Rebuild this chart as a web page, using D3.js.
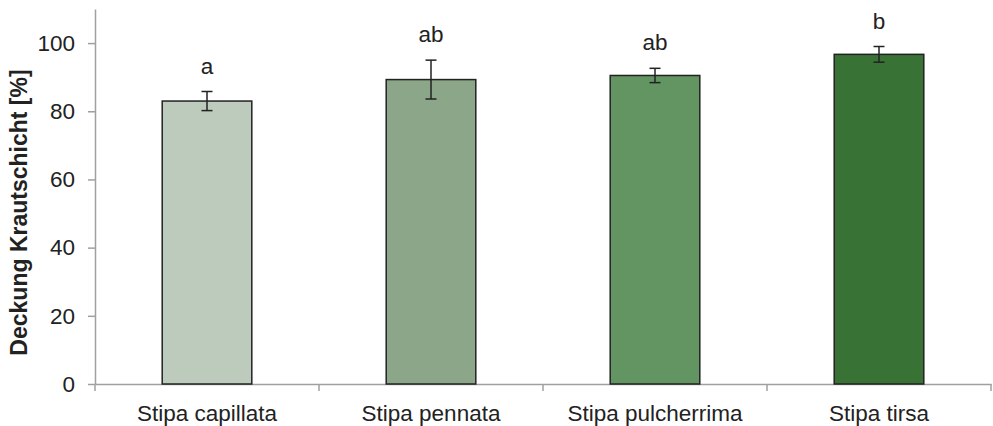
<!DOCTYPE html>
<html><head><meta charset="utf-8">
<script src="https://cdn.jsdelivr.net/npm/d3@7"></script>
<style>body{margin:0;background:#fff}svg{display:block}</style>
</head><body>
<svg id="c" width="993" height="426"></svg>
<script>
const categories = ["Stipa capillata", "Stipa pennata", "Stipa pulcherrima", "Stipa tirsa"];
const means = [83.0, 89.3, 90.5, 96.7];
const errors = [2.8, 5.7, 2.1, 2.3];
const letters = ["a", "ab", "ab", "b"];
const yTicks = [0, 20, 40, 60, 80, 100];
const colors = ["#bdcbbd", "#8ca689", "#639563", "#387335"];

(function () {
const svg = d3.select("#c");
const mLeft = 95, mRight = 991, mTop = 9, mBottom = 384;
const x = d3.scaleBand().domain(categories).range([mLeft, mRight]).paddingInner(0).paddingOuter(0);
const y = d3.scaleLinear().domain([0, 110]).range([mBottom, mTop]);
const font = "'Liberation Sans', Arial, sans-serif";
const axisColor = "#a0a0a0";
const barW = x.bandwidth() * 0.4;
const fs = 22.5;

// y axis
const ya = svg.append("g").attr("transform", `translate(${mLeft},0)`)
  .call(d3.axisLeft(y).tickValues(yTicks).tickSize(7).tickPadding(13).tickSizeOuter(0));
ya.select(".domain").attr("stroke", axisColor).attr("stroke-width", 1.5);
ya.selectAll(".tick line").attr("stroke", axisColor).attr("stroke-width", 1.5);
ya.selectAll(".tick text").attr("font-family", font).attr("font-size", fs).attr("fill", "#222");

// x axis
const xa = svg.append("g").attr("transform", `translate(0,${mBottom})`)
  .call(d3.axisBottom(x).tickSize(0).tickPadding(21));
xa.select(".domain").attr("stroke", axisColor).attr("stroke-width", 1.5);
xa.selectAll(".tick text").attr("font-family", font).attr("font-size", fs).attr("fill", "#222");
// category boundary ticks
const bounds = categories.map(c => x(c)).concat([mRight]);
svg.append("g").selectAll("line").data(bounds).join("line")
  .attr("x1", d => d).attr("x2", d => d).attr("y1", mBottom).attr("y2", mBottom + 7)
  .attr("stroke", axisColor).attr("stroke-width", 1.5);

// bars
svg.append("g").selectAll("rect").data(categories).join("rect")
  .attr("x", (c) => x(c) + (x.bandwidth() - barW) / 2)
  .attr("y", (c, i) => y(means[i]))
  .attr("width", barW)
  .attr("height", (c, i) => y(0) - y(means[i]))
  .attr("fill", (c, i) => colors[i])
  .attr("stroke", "#222").attr("stroke-width", 1.5);

// error bars
const eg = svg.append("g").attr("stroke", "#222").attr("stroke-width", 1.5);
categories.forEach((c, i) => {
  const cx = x(c) + x.bandwidth() / 2;
  const y1 = y(means[i] + errors[i]), y2 = y(means[i] - errors[i]);
  eg.append("line").attr("x1", cx).attr("x2", cx).attr("y1", y1).attr("y2", y2);
  eg.append("line").attr("x1", cx - 5.5).attr("x2", cx + 5.5).attr("y1", y1).attr("y2", y1);
  eg.append("line").attr("x1", cx - 5.5).attr("x2", cx + 5.5).attr("y1", y2).attr("y2", y2);
});

// letters
svg.append("g").selectAll("text").data(categories).join("text")
  .attr("x", c => x(c) + x.bandwidth() / 2)
  .attr("y", (c, i) => y(means[i] + errors[i]) - 18)
  .attr("text-anchor", "middle")
  .attr("font-family", font).attr("font-size", fs).attr("fill", "#222")
  .text((c, i) => letters[i]);

// y title
svg.append("text")
  .attr("transform", `translate(27,212.5) rotate(-90)`)
  .attr("text-anchor", "middle")
  .attr("font-family", font).attr("font-size", 23).attr("font-weight", "bold").attr("fill", "#222")
  .text("Deckung Krautschicht [%]");
})();
</script>
</body></html>
